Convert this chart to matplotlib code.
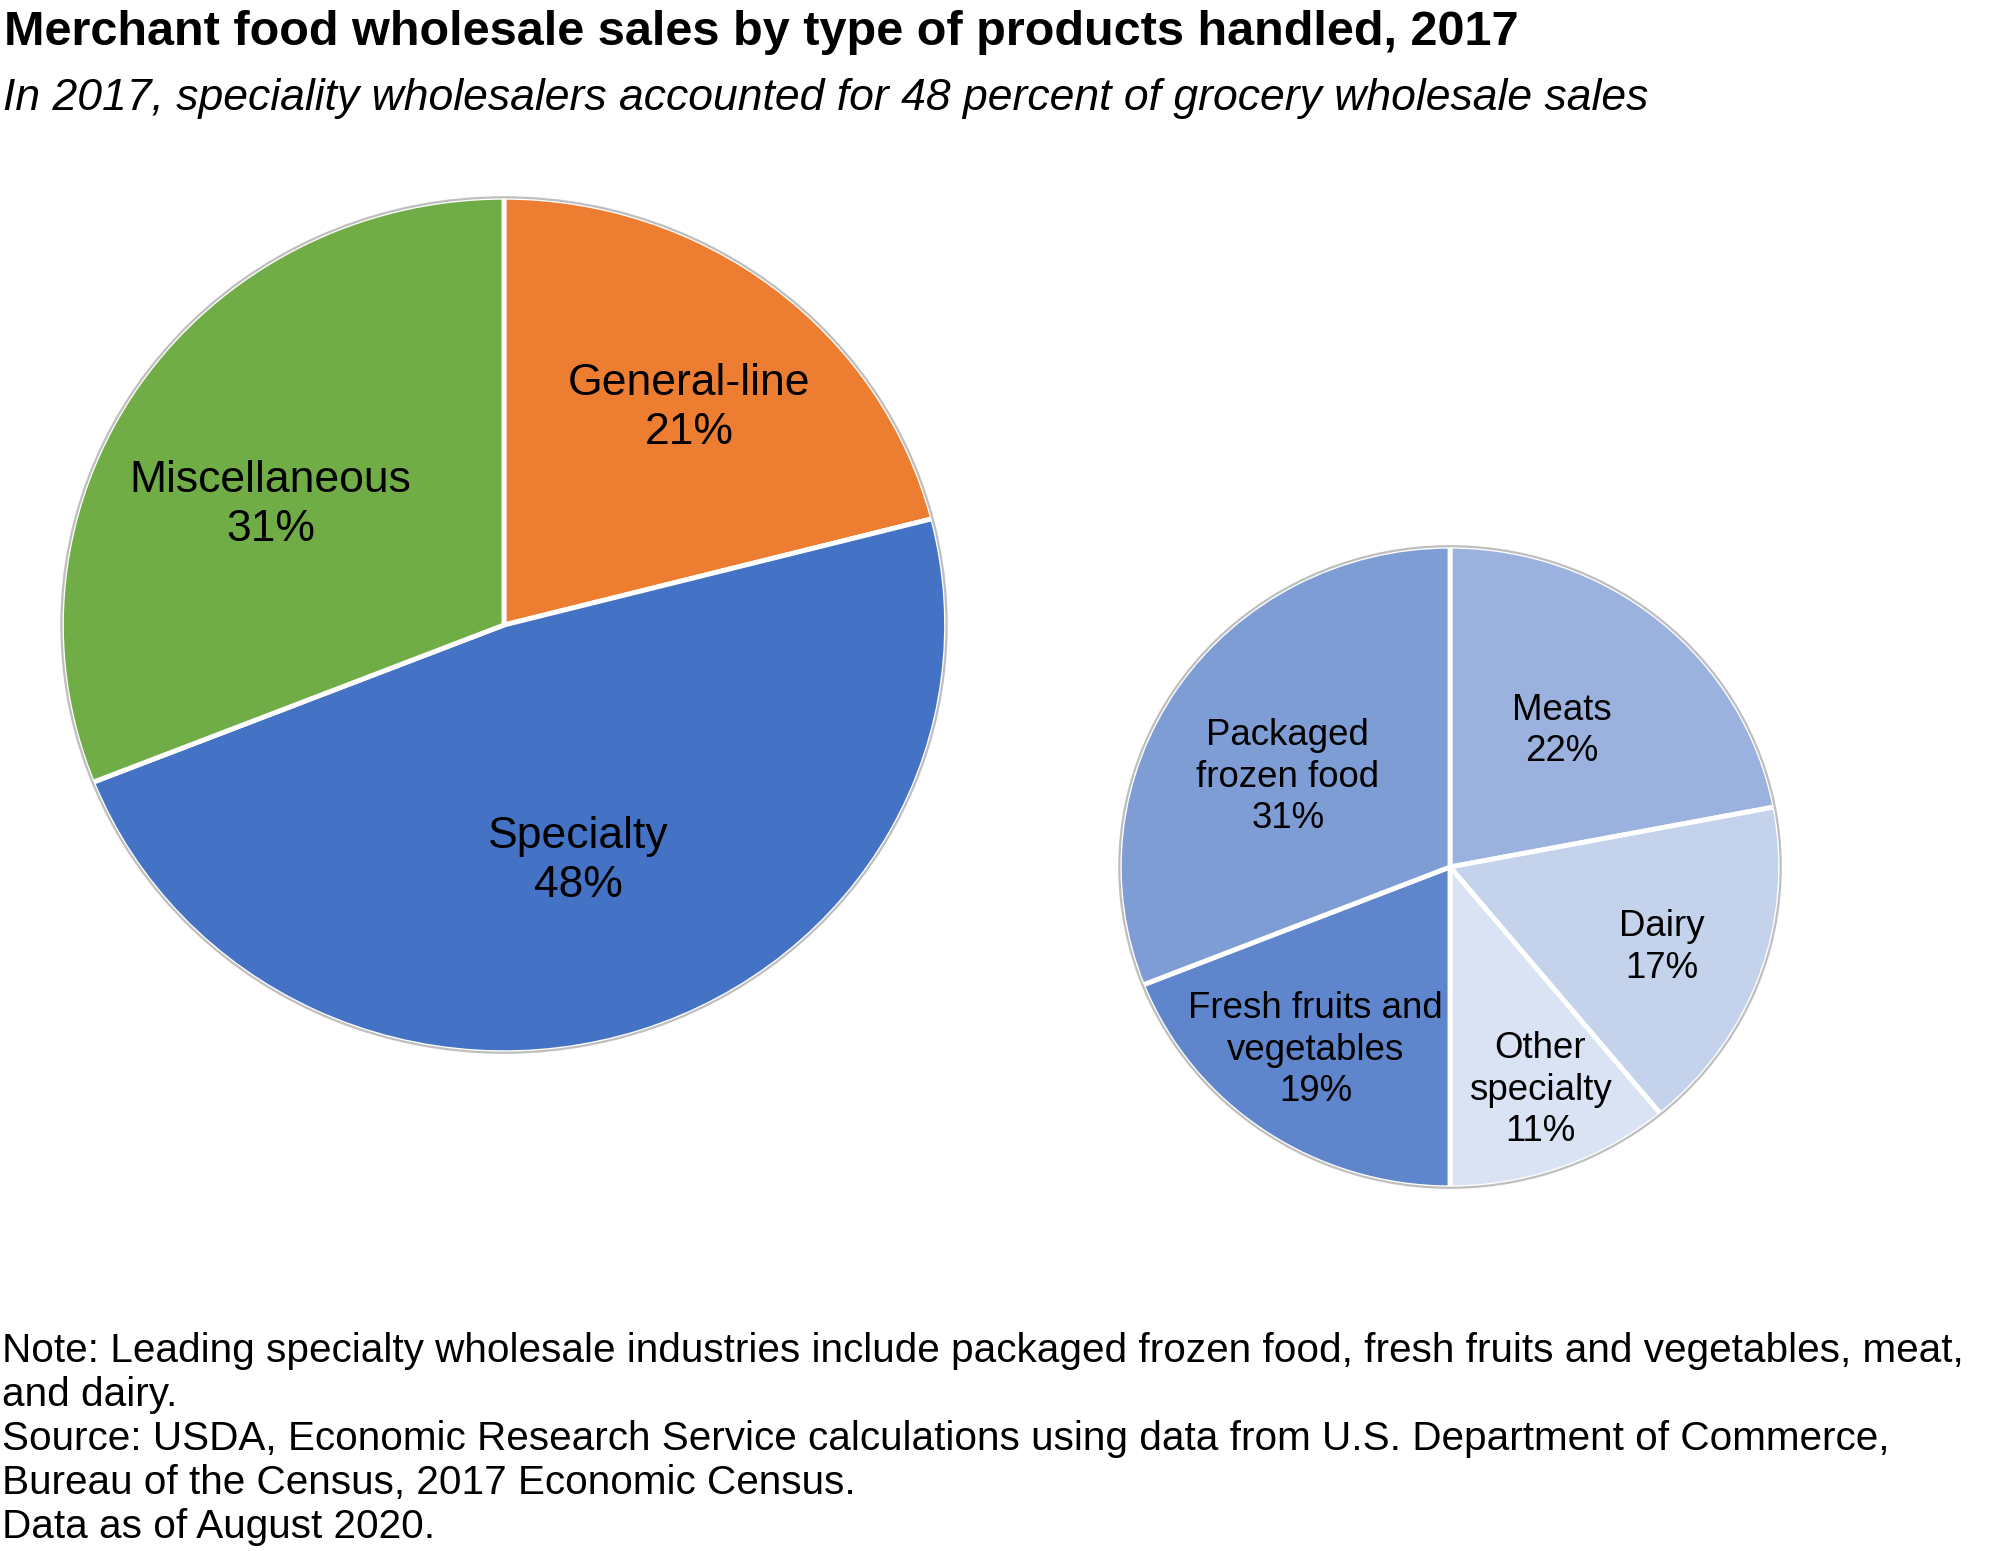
import matplotlib
matplotlib.use("Agg")
import matplotlib.pyplot as plt
from matplotlib.patches import Ellipse
import numpy as np

plt.rcParams['font.family'] = ['Liberation Sans', 'DejaVu Sans']

# ---- data ----
title = "Merchant food wholesale sales by type of products handled, 2017"
subtitle = "In 2017, speciality wholesalers accounted for 48 percent of grocery wholesale sales"

main_labels = ["General-line", "Specialty", "Miscellaneous"]
main_values = [21, 48, 31]
main_colors = ["#ED7D31", "#4472C4", "#70AD47"]

spec_labels = ["Meats", "Dairy", "Other\nspecialty", "Fresh fruits and\nvegetables", "Packaged\nfrozen food"]
spec_values = [22, 17, 11, 19, 31]
spec_colors = ["#9BB2DF", "#C4D2EC", "#DAE3F3", "#5F86CC", "#7E9DD5"]

note_lines = [
    "Note: Leading specialty wholesale industries include packaged frozen food, fresh fruits and vegetables, meat,",
    "and dairy.",
    "Source: USDA, Economic Research Service calculations using data from U.S. Department of Commerce,",
    "Bureau of the Census, 2017 Economic Census.",
    "Data as of August 2020.",
]

W, H = 2009, 1551
fig = plt.figure(figsize=(W / 100, H / 100), dpi=100)
fig.patch.set_facecolor("white")


def pie_axes(cx, cy, rx, ry):
    return fig.add_axes([(cx - rx) / W, 1 - (cy + ry) / H, 2 * rx / W, 2 * ry / H])


def draw_pie(ax, values, labels, colors, dists, offs, fontsize, lsp):
    wedges, _ = ax.pie(values, colors=colors, startangle=90, counterclock=False,
                       radius=1.0,
                       wedgeprops=dict(edgecolor="white", linewidth=3.5))
    ax.add_patch(Ellipse((0, 0), 2.0, 2.0, fill=False, edgecolor="#BFBFBF",
                         linewidth=1.6, zorder=5))
    for w, lab, v, d, (ox, oy) in zip(wedges, labels, values, dists, offs):
        ang = np.deg2rad((w.theta1 + w.theta2) / 2)
        ax.text(d * np.cos(ang) + ox, d * np.sin(ang) + oy, f"{lab}\n{v}%",
                ha="center", va="center", fontsize=fontsize,
                linespacing=lsp, color="black", zorder=6)
    ax.set_aspect("auto")
    ax.set_xlim(-1.01, 1.01)
    ax.set_ylim(-1.01, 1.01)
    ax.axis("off")


ax1 = pie_axes(504, 625, 447, 432)
draw_pie(ax1, main_values, main_labels, main_colors, [0.66, 0.58, 0.61],
         [(0.014, -0.015), (-0.012, 0.0), (-0.023, -0.063)], 32, 1.25)

ax2 = pie_axes(1450, 867, 334, 324)
draw_pie(ax2, spec_values, spec_labels, spec_colors, [0.56, 0.68, 0.74, 0.69, 0.57],
         [(-0.019, -0.008), (0.0, -0.02), (0.023, 0.0), (-0.019, 0.0), (-0.019, -0.04)],
         26.4, 1.24)

fig.text(4 / W, 1 - 10 / H, title, fontsize=35, fontweight="bold", ha="left", va="top")
fig.text(3 / W, 1 - 78 / H, subtitle, fontsize=32, style="italic", ha="left", va="top")

fig.text(2 / W, 1 - 1332 / H, "\n".join(note_lines), fontsize=29.2, ha="left", va="top",
         linespacing=1.2)

fig.savefig("out.png", dpi=100, facecolor="white")
